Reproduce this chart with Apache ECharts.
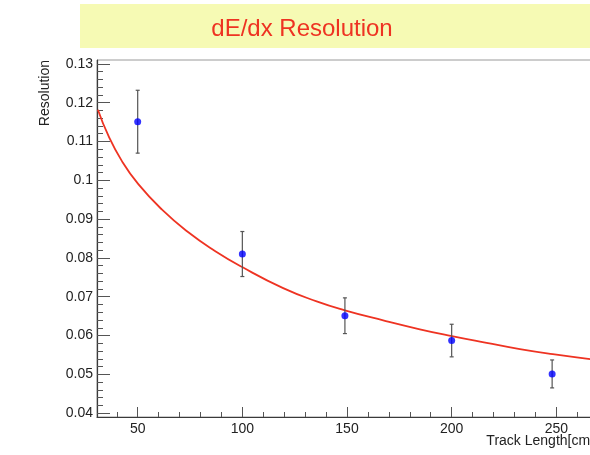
<!DOCTYPE html>
<html>
<head>
<meta charset="utf-8">
<script src="https://cdn.jsdelivr.net/npm/echarts@6/dist/echarts.min.js"></script>
<style>
  html, body { margin: 0; padding: 0; background: #fff; overflow: hidden; }
  #chart { width: 594px; height: 455px; }
</style>
</head>
<body>
<div id="chart"></div>
<script>
// Measured dE/dx resolution versus track length
const trackLength = [50, 100, 149, 200, 248];
const resolution = [0.1151, 0.0810, 0.0651, 0.0587, 0.0501];
const resolutionErr = [0.0081, 0.0058, 0.0046, 0.0042, 0.0036];

// Fitted curve, sampled along the track length
const fitLength = [31, 36, 42.4, 50.3, 61.5, 74.2, 86.9, 99.7, 119.5, 135.5, 149, 167.3, 184.8, 199.5, 216.7, 232.6, 248.3, 268];
const fitResolution = [0.1182, 0.1115, 0.1050, 0.0990, 0.0925, 0.0866, 0.0818, 0.0777, 0.0722, 0.0688, 0.0665, 0.0639, 0.0616, 0.0599, 0.0581, 0.0565, 0.0552, 0.0538];

// Axis ticks
const xMajorTicks = [50, 100, 150, 200, 250];
const xMinorTicks = [40, 60, 70, 80, 90, 110, 120, 130, 140, 160, 170, 180, 190, 210, 220, 230, 240, 260];
const yMajorTicks = [0.04, 0.05, 0.06, 0.07, 0.08, 0.09, 0.1, 0.11, 0.12, 0.13];
const yMinorTicks = [];
for (let i = 0; i < yMajorTicks.length - 1; i++) {
  for (let k = 1; k < 5; k++) {
    yMinorTicks.push(Math.round((yMajorTicks[i] + k * 0.002) * 1000) / 1000);
  }
}

const titleText = 'dE/dx Resolution';
const xTitle = 'Track Length[cm]';
const yTitle = 'Resolution';

const FONT = '"Liberation Sans", Arial, Helvetica, sans-serif';
const X_MIN = 30.56, X_MAX = 268;
const Y_MIN = 0.039, Y_MAX = 0.131;

const chart = echarts.init(document.getElementById('chart'), null, { renderer: 'canvas' });

const pointData = trackLength.map((x, i) => [x, resolution[i]]);
const errData = trackLength.map((x, i) => [x, resolution[i] - resolutionErr[i], resolution[i] + resolutionErr[i]]);
const fitData = fitLength.map((x, i) => [x, fitResolution[i]]);

function fmt(v) { return String(parseFloat(Number(v).toFixed(3))); }

const option = {
  animation: false,
  backgroundColor: '#ffffff',
  grid: {
    left: 97, right: 0, top: 60, bottom: 38,
    show: true, borderColor: '#9a9a9a', borderWidth: 1, backgroundColor: 'transparent'
  },
  xAxis: [
    {
      type: 'value', min: X_MIN, max: X_MAX, position: 'bottom',
      axisLine: { show: true, onZero: false, lineStyle: { color: '#3a3a3a', width: 1.2 } },
      axisTick: { show: true, inside: true, length: 10, customValues: xMajorTicks, lineStyle: { color: '#555', width: 1 } },
      axisLabel: { show: true, customValues: xMajorTicks, color: '#222', fontSize: 14, fontFamily: FONT, margin: 5, formatter: fmt },
      splitLine: { show: false }
    },
    {
      type: 'value', min: X_MIN, max: X_MAX, position: 'bottom',
      axisLine: { show: false, onZero: false },
      axisTick: { show: true, inside: true, length: 5, customValues: xMinorTicks, lineStyle: { color: '#555', width: 1 } },
      axisLabel: { show: false },
      splitLine: { show: false }
    }
  ],
  yAxis: [
    {
      type: 'value', min: Y_MIN, max: Y_MAX, position: 'left',
      axisLine: { show: true, onZero: false, lineStyle: { color: '#3a3a3a', width: 1.2 } },
      axisTick: { show: true, inside: true, length: 13, customValues: yMajorTicks, lineStyle: { color: '#555', width: 1 } },
      axisLabel: { show: true, customValues: yMajorTicks, color: '#222', fontSize: 14, fontFamily: FONT, margin: 4, formatter: fmt },
      splitLine: { show: false }
    },
    {
      type: 'value', min: Y_MIN, max: Y_MAX, position: 'left',
      axisLine: { show: false, onZero: false },
      axisTick: { show: true, inside: true, length: 6, customValues: yMinorTicks, lineStyle: { color: '#555', width: 1 } },
      axisLabel: { show: false },
      splitLine: { show: false }
    }
  ],
  graphic: [
    {
      type: 'rect', left: 80, top: 4, z: 0,
      shape: { width: 540, height: 44 },
      style: { fill: '#f6fab4' }
    },
    {
      type: 'text', x: 302, y: 29, z: 1,
      style: {
        text: titleText, fill: '#ee3322', font: '24px ' + FONT,
        textAlign: 'center', textVerticalAlign: 'middle'
      }
    },
    {
      type: 'text', x: 45, y: 60, rotation: Math.PI / 2, z: 1,
      style: {
        text: yTitle, fill: '#222', font: '14px ' + FONT,
        textAlign: 'right', textVerticalAlign: 'middle'
      }
    },
    {
      type: 'text', x: 594, y: 441, z: 1,
      style: {
        text: xTitle, fill: '#222', font: '14px ' + FONT,
        textAlign: 'right', textVerticalAlign: 'middle'
      }
    }
  ],
  series: [
    {
      name: 'fit', type: 'line', xAxisIndex: 0, yAxisIndex: 0,
      data: fitData, smooth: true, showSymbol: false, clip: true,
      lineStyle: { color: '#ee3322', width: 1.8 }, z: 2
    },
    {
      name: 'error', type: 'custom', xAxisIndex: 0, yAxisIndex: 0, clip: true, z: 3,
      data: errData,
      renderItem: function (params, api) {
        const x = api.value(0);
        const lo = api.coord([x, api.value(1)]);
        const hi = api.coord([x, api.value(2)]);
        const cap = 2;
        const style = { stroke: '#555', lineWidth: 1.2 };
        return {
          type: 'group',
          children: [
            { type: 'line', shape: { x1: lo[0], y1: lo[1], x2: hi[0], y2: hi[1] }, style: style },
            { type: 'line', shape: { x1: lo[0] - cap, y1: lo[1], x2: lo[0] + cap, y2: lo[1] }, style: style },
            { type: 'line', shape: { x1: hi[0] - cap, y1: hi[1], x2: hi[0] + cap, y2: hi[1] }, style: style }
          ]
        };
      }
    },
    {
      name: 'data', type: 'scatter', xAxisIndex: 0, yAxisIndex: 0,
      data: pointData, symbol: 'circle', symbolSize: 7,
      itemStyle: { color: '#0000ff' }, z: 4
    }
  ]
};

chart.setOption(option);
</script>
</body>
</html>
